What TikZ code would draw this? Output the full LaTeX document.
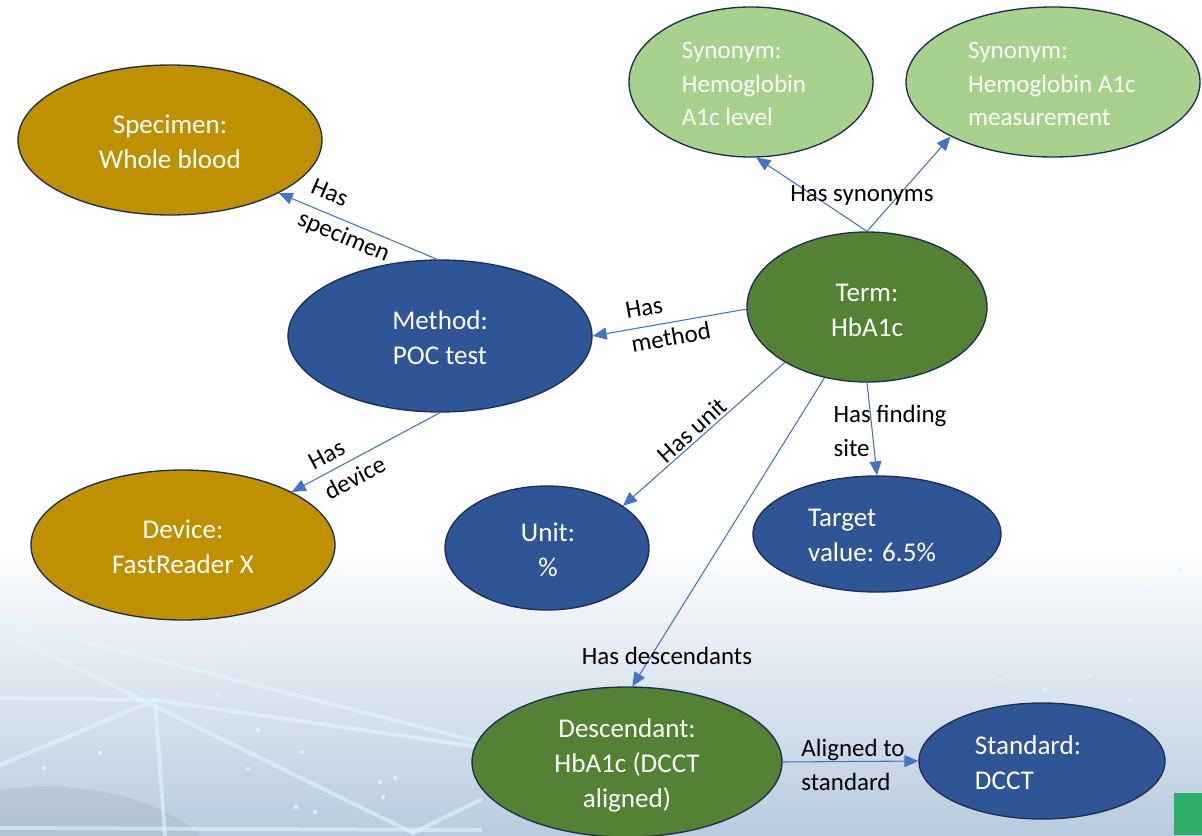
\documentclass[tikz,border=0pt]{standalone}
\usepackage{fontspec}
\setmainfont{Carlito}
\usetikzlibrary{shapes.geometric,arrows.meta}
\definecolor{gold}{HTML}{BF9000}
\definecolor{lgreen}{HTML}{A9D18E}
\definecolor{dgreen}{HTML}{548235}
\definecolor{nblue}{HTML}{2F5597}
\definecolor{edgeblue}{HTML}{4472C4}
\definecolor{outline}{HTML}{1E2E52}
\definecolor{bgblue}{HTML}{B9CBDF}
\definecolor{netline}{HTML}{DFF7FF}
\definecolor{sqgreen}{HTML}{2EAD6B}
\begin{document}
\begin{tikzpicture}[x=0.75pt,y=-0.75pt,
  ell/.style={ellipse, draw=outline, line width=1pt, inner sep=0pt},
  ntext/.style={text=white, font=\fontsize{20.3}{26.2}\selectfont, align=center, inner sep=0pt},
  stext/.style={text=white, font=\fontsize{18.8}{24.8}\selectfont, align=left, inner sep=0pt},
  elabel/.style={text=black, font=\fontsize{18.7}{25.5}\selectfont, align=left, inner sep=0pt},
  link/.style={draw=edgeblue, line width=0.8pt, -{Triangle[length=10.5pt,width=9pt]}},
  net/.style={draw=netline, line width=3pt, opacity=0.6, line cap=round},
  dot/.style={fill=netline, opacity=0.8},
]
\useasboundingbox (0,0) rectangle (1202,835);
% background
\fill[white] (0,0) rectangle (1202,835);
\shade[top color=white, bottom color=bgblue] (0,540) rectangle (1202,835);
\fill[gray!50!bgblue, opacity=0.25] (0,790) .. controls (60,780) and (150,790) .. (200,835) -- (0,835) -- cycle;
\draw[net] (0,620) -- (480,742);
\draw[net] (0,630) -- (413,833);
\draw[net] (0,698) -- (155,700) -- (480,747);
\draw[net] (0,765) -- (155,700);
\draw[net] (155,700) -- (165,835);
\draw[net] (0,828) -- (480,830);
\draw[net] (413,833) -- (480,800);
\foreach \p in {(224,646),(244,646),(218,695),(258,730),(100,753),(44,768),(302,752),(248,769),(380,782),(395,778),(296,807),(315,812),(383,797),(357,638),(383,632),(1000,680),(1045,690),(1090,675),(1060,740),(1130,700),(1185,650),(1150,600),(1180,570),(1150,590)}
  \fill[dot] \p circle (2.2);
% green square
\fill[sqgreen] (1174,793) rectangle (1202,835);

% nodes
\node[ell, fill=gold, minimum width=228pt, minimum height=112.5pt] (spec) at (170,140) {};
\node[ntext] (specT) at (170,142) {Specimen:\\Whole blood};

\node[ell, fill=lgreen, minimum width=183pt, minimum height=112.5pt] (syn1) at (751,82) {};
\node[stext] (syn1T) at (744,84) {Synonym:\\Hemoglobin\\A1c level};

\node[ell, fill=lgreen, minimum width=220.5pt, minimum height=112.5pt] (syn2) at (1053,82) {};
\node[stext] (syn2T) at (1052,84) {Synonym:\\Hemoglobin A1c\\measurement};

\node[ell, fill=dgreen, minimum width=180pt, minimum height=112.5pt] (term) at (867,307) {};
\node[ntext] (termT) at (867,310) {Term:\\HbA1c};

\node[ell, fill=nblue, minimum width=228pt, minimum height=114pt] (meth) at (440,336) {};
\node[ntext] (methT) at (440,338) {Method:\\POC test};

\node[ell, fill=gold, minimum width=228pt, minimum height=112.5pt] (dev) at (183,545) {};
\node[ntext] (devT) at (183,547) {Device:\\FastReader X};

\node[ell, fill=nblue, minimum width=153pt, minimum height=93pt] (unit) at (547,548) {};
\node[ntext] (unitT) at (548,550) {Unit:\\\%};

\node[ell, fill=nblue, minimum width=186pt, minimum height=87pt] (targ) at (877,534) {};
\node[ntext, align=left] (targT) at (872,535) {Target\\value: 6.5\%};

\node[ell, fill=dgreen, minimum width=232.5pt, minimum height=112.5pt] (desc) at (627,762) {};
\node[ntext] (descT) at (627,765) {Descendant:\\HbA1c (DCCT\\aligned)};

\node[ell, fill=nblue, minimum width=184.5pt, minimum height=87pt] (std) at (1042,761) {};
\node[ntext, align=left] (stdT) at (1028,763) {Standard:\\DCCT};

% connectors
\draw[link] (term.north) -- (syn1.-86);
\draw[link] (term.north) -- (syn2.-152);
\draw[link] (meth.92) -- (spec.-26);
\draw[link] (term.181) -- (meth.east);
\draw[link] (meth.south) -- (dev.26);
\draw[link] (term.-146) -- (unit.29.5);
\draw[link] (term.-121) -- (desc.86);
\draw[link] (term.south) -- (targ.north);
\draw[link] (desc.east) -- (std.west);

% labels
\node[elabel] (lsyn) at (862,196) {Has synonyms};
\node[elabel, rotate=-23] (lspec) at (350,222) {Has\\specimen};
\node[elabel, rotate=10] (lmeth) at (668,321) {Has\\method};
\node[elabel, rotate=28] (ldev) at (347,463) {Has\\device};
\node[elabel, rotate=42] (lunit) at (692,430) {Has unit};
\node[elabel] (lsite) at (890,431) {Has finding\\site};
\node[elabel] (ldesc) at (667,656) {Has descendants};
\node[elabel] (lstd) at (853,765) {Aligned to\\standard};
\end{tikzpicture}
\end{document}
